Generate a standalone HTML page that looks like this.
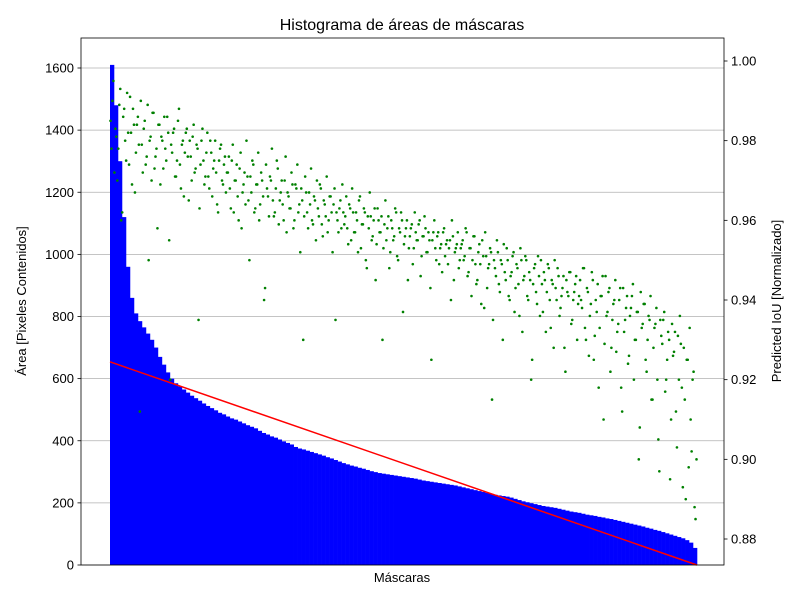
<!DOCTYPE html>
<html><head><meta charset="utf-8"><style>
body{margin:0;background:#fff}
svg text{font-family:"Liberation Sans","DejaVu Sans",sans-serif;fill:#000}
</style></head><body>
<svg id="chart" width="800" height="600"></svg>
<script>
const areaValues=[1610,1480,1300,1120,960,860,810,785,765,745,725,700,670,645,620,600,585,575,565,555,545,537,529,520,512,505,498,490,485,478,472,468,462,456,450,445,440,432,425,420,414,410,404,398,393,388,380,375,372,368,364,360,356,352,347,343,338,333,328,324,320,317,313,310,306,302,299,296,294,292,290,288,286,284,282,280,278,275,272,270,268,266,264,262,260,258,256,253,250,247,244,241,238,235,232,229,226,224,222,220,217,213,209,205,202,199,196,193,190,188,186,184,181,178,175,172,170,168,165,162,160,158,155,153,150,148,145,142,139,136,133,130,127,124,120,117,113,110,106,102,98,94,90,86,80,72,55];
const iouValues=[0.985,0.99,0.972,0.981,0.978,0.993,0.962,0.988,0.975,0.982,0.991,0.969,0.984,0.977,0.986,0.912,0.979,0.983,0.974,0.989,0.98,0.97,0.987,0.976,0.958,0.984,0.981,0.973,0.978,0.986,0.955,0.979,0.982,0.971,0.975,0.988,0.968,0.98,0.977,0.983,0.965,0.976,0.981,0.972,0.979,0.935,0.974,0.983,0.969,0.977,0.971,0.98,0.966,0.975,0.972,0.962,0.978,0.97,0.974,0.967,
0.972,0.968,0.975,0.962,0.97,0.966,0.973,0.958,0.969,0.964,0.971,0.95,0.967,0.974,0.963,0.969,0.96,0.972,0.966,0.943,0.968,0.961,0.97,0.965,0.962,0.975,0.959,0.967,0.964,0.97,0.957,0.966,0.963,0.969,0.96,0.968,0.962,0.952,0.965,0.961,0.967,0.958,0.964,0.96,0.966,0.955,0.963,0.969,0.959,0.965,0.961,0.957,0.966,0.962,0.964,0.935,0.96,0.963,0.958,0.962,
0.961,0.958,0.964,0.955,0.962,0.957,0.96,0.965,0.953,0.959,0.962,0.948,0.958,0.961,0.956,0.963,0.954,0.96,0.957,0.93,0.959,0.955,0.961,0.952,0.958,0.956,0.962,0.95,0.957,0.96,0.954,0.958,0.945,0.956,0.959,0.953,0.957,0.955,0.96,0.951,0.956,0.958,0.952,0.955,0.925,0.957,0.953,0.956,0.949,0.954,0.957,0.951,0.955,0.953,0.94,0.956,0.952,0.954,0.948,0.953,
0.955,0.951,0.957,0.947,0.953,0.95,0.956,0.944,0.952,0.949,0.955,0.938,0.951,0.948,0.953,0.915,0.95,0.946,0.952,0.942,0.949,0.954,0.945,0.95,0.94,0.947,0.952,0.943,0.948,0.936,0.95,0.945,0.951,0.941,0.947,0.92,0.944,0.949,0.939,0.946,0.95,0.937,0.945,0.942,0.948,0.933,0.944,0.95,0.94,0.946,0.938,0.943,0.928,0.945,0.941,0.947,0.935,0.942,0.946,0.939,
0.945,0.938,0.948,0.93,0.942,0.936,0.947,0.925,0.94,0.944,0.933,0.941,0.91,0.946,0.937,0.943,0.928,0.939,0.945,0.932,0.94,0.918,0.943,0.935,0.941,0.926,0.938,0.944,0.93,0.937,0.9,0.942,0.934,0.939,0.922,0.936,0.941,0.915,0.933,0.938,0.905,0.935,0.929,0.937,0.92,0.932,0.895,0.934,0.927,0.912,0.931,0.936,0.918,0.928,0.89,0.925,0.933,0.902,0.922,0.885];
const iouValues2=[0.978,0.995,0.983,0.97,0.989,0.96,0.986,0.98,0.992,0.974,0.982,0.988,0.967,0.984,0.979,0.99,0.972,0.985,0.976,0.95,0.981,0.987,0.973,0.978,0.984,0.969,0.98,0.986,0.975,0.982,0.92,0.977,0.983,0.971,0.985,0.974,0.979,0.966,0.982,0.976,0.98,0.97,0.984,0.973,0.978,0.963,0.98,0.975,0.971,0.982,0.968,0.977,0.973,0.98,0.964,0.975,0.979,0.969,0.976,0.972,
0.976,0.963,0.979,0.97,0.974,0.96,0.977,0.967,0.972,0.98,0.965,0.971,0.975,0.962,0.969,0.977,0.964,0.97,0.94,0.974,0.966,0.971,0.978,0.961,0.968,0.973,0.965,0.97,0.96,0.976,0.967,0.963,0.972,0.958,0.969,0.974,0.964,0.968,0.93,0.971,0.962,0.967,0.973,0.959,0.965,0.97,0.961,0.968,0.956,0.964,0.971,0.96,0.966,0.952,0.968,0.962,0.957,0.965,0.969,0.959,
0.966,0.954,0.963,0.968,0.957,0.962,0.952,0.966,0.959,0.963,0.95,0.961,0.967,0.955,0.96,0.945,0.963,0.957,0.961,0.953,0.965,0.958,0.948,0.96,0.955,0.963,0.951,0.958,0.962,0.937,0.956,0.96,0.953,0.958,0.949,0.962,0.955,0.959,0.946,0.956,0.961,0.952,0.957,0.943,0.955,0.96,0.95,0.957,0.953,0.947,0.958,0.954,0.949,0.955,0.96,0.945,0.953,0.957,0.95,0.954,
0.95,0.958,0.946,0.953,0.941,0.956,0.949,0.945,0.954,0.939,0.951,0.957,0.943,0.949,0.952,0.935,0.948,0.955,0.944,0.95,0.93,0.947,0.953,0.941,0.946,0.951,0.937,0.949,0.944,0.953,0.932,0.946,0.95,0.94,0.945,0.925,0.948,0.942,0.951,0.936,0.944,0.947,0.932,0.949,0.94,0.945,0.928,0.943,0.948,0.936,0.941,0.946,0.922,0.942,0.947,0.934,0.94,0.944,0.93,0.941,
0.94,0.948,0.933,0.943,0.926,0.939,0.945,0.931,0.937,0.918,0.941,0.946,0.929,0.936,0.942,0.922,0.935,0.94,0.927,0.934,0.943,0.912,0.932,0.938,0.924,0.936,0.941,0.92,0.93,0.937,0.908,0.933,0.939,0.925,0.93,0.935,0.915,0.928,0.934,0.92,0.897,0.931,0.935,0.917,0.925,0.93,0.91,0.926,0.932,0.903,0.92,0.929,0.893,0.915,0.925,0.898,0.91,0.92,0.888,0.9];
const trendValues=[654,0];
const leftTicks=[0,200,400,600,800,1000,1200,1400,1600];
const rightTicks=[0.88,0.90,0.92,0.94,0.96,0.98,1.00];

const NS="http://www.w3.org/2000/svg";
const svg=document.getElementById('chart');
const L=81,R=724,T=38,B=565,X0=110,X1=697;
const yL=v=>B-v*(497/1600);
const yR=v=>61+(1-v)*(478/0.12);
function mk(tag,attrs,parent){const e=document.createElementNS(NS,tag);for(const k in attrs)e.setAttribute(k,attrs[k]);(parent||svg).appendChild(e);return e;}

leftTicks.forEach(t=>{const g=mk('line',{x1:L,x2:R,y1:yL(t),y2:yL(t),stroke:'#b0b0b0','stroke-width':0.8});

});
const bw=(X1-X0)/areaValues.length;
areaValues.forEach((v,i)=>{const b=mk('rect',{x:X0+i*bw,y:yL(v),width:bw+0.3,height:B-yL(v),fill:'#0000ff'});

});
const sw=(X1-X0)/iouValues.length;
iouValues.forEach((v,i)=>{const c=mk('circle',{cx:X0+i*sw+sw*0.25,cy:yR(v),r:1.3,fill:'#008000'});

});
const sw2=(X1-X0)/iouValues2.length;
iouValues2.forEach((v,i)=>{const c=mk('circle',{cx:X0+i*sw2+sw2*0.75,cy:yR(v),r:1.3,fill:'#008000'});

});
const tl=mk('line',{x1:X0,y1:yL(trendValues[0]),x2:X1,y2:yL(trendValues[1]),stroke:'#ff0000','stroke-width':1.5});


const fr=mk('rect',{x:L,y:T,width:R-L,height:B-T,fill:'none',stroke:'#000','stroke-width':0.8});


leftTicks.forEach(t=>{mk('line',{x1:L-3.5,x2:L,y1:yL(t),y2:yL(t),stroke:'#000','stroke-width':0.8});
const tx=mk('text',{x:L-7,y:yL(t)+4.5,'text-anchor':'end','font-size':13});tx.textContent=t;

});
rightTicks.forEach(t=>{mk('line',{x1:R,x2:R+3.5,y1:yR(t),y2:yR(t),stroke:'#000','stroke-width':0.8});
const tx=mk('text',{x:R+7,y:yR(t)+4.5,'font-size':13});tx.textContent=t.toFixed(2);

});
let t=mk('text',{x:402,y:30,'text-anchor':'middle','font-size':16});t.textContent='Histograma de áreas de máscaras';


t=mk('text',{x:402,y:582,'text-anchor':'middle','font-size':13});t.textContent='Máscaras';


t=mk('text',{x:26,y:301,'text-anchor':'middle','font-size':13,transform:'rotate(-90 26 301)'});t.textContent='Área [Pixeles Contenidos]';


t=mk('text',{x:781,y:301,'text-anchor':'middle','font-size':13,transform:'rotate(-90 781 301)'});t.textContent='Predicted IoU [Normalizado]';


</script>
</body></html>
